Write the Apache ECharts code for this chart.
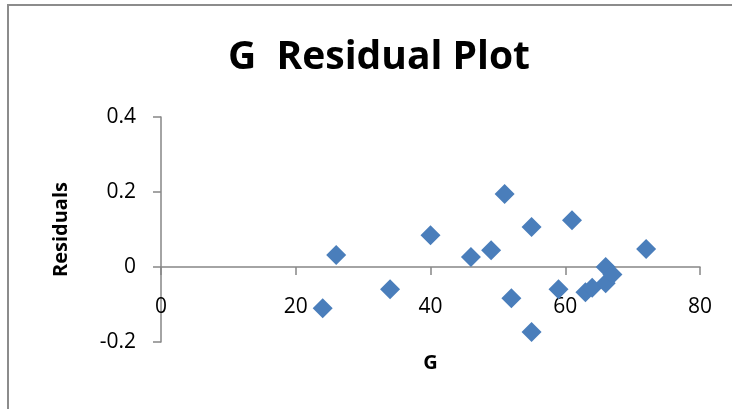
<!DOCTYPE html>
<html>
<head>
<meta charset="utf-8">
<style>
  html, body { margin: 0; padding: 0; background: #fff; }
  #chart { width: 732px; height: 409px; }
</style>
<script src="https://cdn.jsdelivr.net/npm/echarts@6/dist/echarts.min.js"></script>
</head>
<body>
<div id="chart"></div>
<script>
// G values and their regression residuals
const gValues = [24, 26, 34, 40, 46, 49, 51, 52, 55, 55, 59, 61, 63, 64, 66, 66, 67, 72];
const residuals = [-0.11, 0.032, -0.059, 0.085, 0.027, 0.045, 0.195, -0.083, 0.107, -0.173,
                   -0.059, 0.125, -0.067, -0.055, 0.0, -0.043, -0.02, 0.048];

const xTicks = { min: 0, max: 80, interval: 20 };
const yTicks = { min: -0.2, max: 0.4, interval: 0.2 };

const points = gValues.map((g, i) => [g, residuals[i]]);

const axisGray = '#868686';
const labelFont = { fontFamily: 'Open Sans', fontSize: 21, color: '#000' };
const nameFont = { fontFamily: 'Open Sans', fontSize: 20, fontWeight: 'bold', color: '#000' };

const chart = echarts.init(document.getElementById('chart'), null, { renderer: 'canvas' });
chart.setOption({
  animation: false,
  backgroundColor: '#fff',
  title: {
    text: 'G  Residual Plot',
    left: 374,
    top: 33,
    textAlign: 'center',
    textStyle: { fontFamily: 'Open Sans', fontSize: 39, fontWeight: 'bold', color: '#000' }
  },
  graphic: [{
    type: 'rect',
    shape: { x: 8, y: 5, width: 800, height: 500 },
    style: { fill: null, stroke: '#8c8c8c', lineWidth: 2 },
    silent: true
  }],
  grid: { left: 161, right: 32, top: 117, bottom: 67, containLabel: false, outerBoundsMode: 'none' },
  xAxis: {
    type: 'value',
    min: xTicks.min, max: xTicks.max, interval: xTicks.interval,
    name: 'G',
    nameLocation: 'middle',
    nameGap: 11,
    nameTextStyle: nameFont,
    axisLine: { onZero: true, lineStyle: { color: axisGray, width: 1.5 } },
    axisTick: { show: true, inside: false, length: 8, lineStyle: { color: axisGray, width: 1.5 } },
    axisLabel: Object.assign({ margin: -45 }, labelFont),
    splitLine: { show: false }
  },
  yAxis: {
    type: 'value',
    min: yTicks.min, max: yTicks.max, interval: yTicks.interval,
    name: 'Residuals',
    nameLocation: 'middle',
    nameRotate: 90,
    nameGap: 90,
    nameTextStyle: nameFont,
    axisLine: { show: true, lineStyle: { color: axisGray, width: 1.5 } },
    axisTick: { show: true, inside: false, length: 8, lineStyle: { color: axisGray, width: 1.5 } },
    axisLabel: Object.assign({
      margin: 25,
      formatter: v => (Math.abs(v) < 1e-9 ? '0' : String(Math.round(v * 10) / 10))
    }, labelFont),
    splitLine: { show: false }
  },
  series: [{
    type: 'scatter',
    data: points,
    symbol: 'diamond',
    symbolSize: [20, 20],
    itemStyle: { color: '#4a7ebb', opacity: 1 }
  }]
});
</script>
</body>
</html>
